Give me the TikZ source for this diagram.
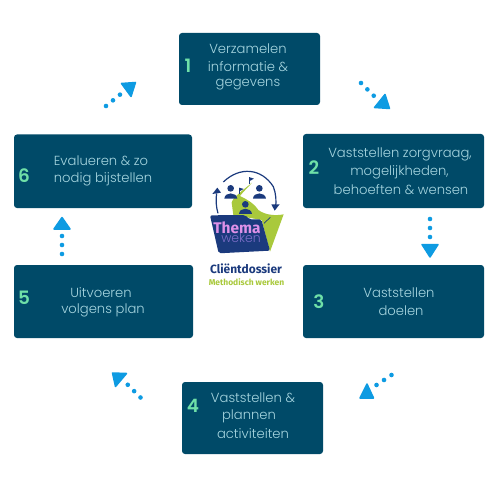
\documentclass[tikz,border=0pt]{standalone}
\usepackage{fontspec}
\setmainfont{Poppins}[UprightFont={* Light},BoldFont={* SemiBold}]
\newfontfamily\logofont{Fira Sans}
\newfontfamily\logolight{Poppins}[UprightFont={* Light}]
\usetikzlibrary{calc}
\definecolor{boxc}{HTML}{004A68}
\definecolor{txtc}{HTML}{A6D5DF}
\definecolor{numc}{HTML}{6FE0A8}
\definecolor{arrc}{HTML}{0E9BE2}
\definecolor{navy}{HTML}{1B3A7D}
\definecolor{lime}{HTML}{A9C93C}
\tikzset{
 x=1bp,y=-1bp,
 stepbox/.style={fill=boxc,rounded corners=3bp,draw=none},
 lbl/.style={text=txtc,font=\fontsize{13.2}{18}\selectfont,align=center,inner sep=0},
 num/.style={text=numc,font=\fontsize{18.5}{18}\selectfont\bfseries,inner sep=0},
 dotline/.style={draw=arrc,line width=4.6bp,line cap=round,dash pattern=on 0bp off 9bp},
 headtri/.style={fill=arrc,draw=arrc,line width=1.5bp,line join=round},
 pers/.style={fill=navy},
}
\begin{document}
\begin{tikzpicture}
\useasboundingbox (0,0) rectangle (500,500);
\fill[white] (0,0) rectangle (500,500);
% boxes
\fill[stepbox] (179,33) rectangle (320,105);
\fill[stepbox] (303,134) rectangle (484,208);
\fill[stepbox] (303,265) rectangle (484,338);
\fill[stepbox] (182,382) rectangle (323,454);
\fill[stepbox] (14,265) rectangle (193,338);
\fill[stepbox] (14,134.5) rectangle (192,208);
% texts
\node[lbl] (t1a) at (248,48.5) {Verzamelen};
\node[lbl] (t1b) at (248,66.5) {informatie \&};
\node[lbl] (t1c) at (248,84.5) {gegevens};
\node[num] (n1) at (188,66) {1};
\node[lbl] (t2a) at (400,154) {Vaststellen zorgvraag,};
\node[lbl] (t2b) at (399.5,172) {mogelijkheden,};
\node[lbl] (t2c) at (401,190) {behoeften \& wensen};
\node[num] (n2) at (314,168) {2};
\node[lbl] (t3a) at (399,292.5) {Vaststellen};
\node[lbl] (t3b) at (401,310.5) {doelen};
\node[num] (n3) at (319,302) {3};
\node[lbl] (t4a) at (253,398) {Vaststellen \&};
\node[lbl] (t4b) at (249,416) {plannen};
\node[lbl] (t4c) at (253,434) {activiteiten};
\node[num] (n4) at (193,406) {4};
\node[lbl] (t5a) at (101,292.5) {Uitvoeren};
\node[lbl] (t5b) at (103,310.5) {volgens plan};
\node[num] (n5) at (24,298) {5};
\node[lbl] (t6a) at (101,161) {Evalueren \& zo};
\node[lbl] (t6b) at (103,179) {nodig bijstellen};
\node[num] (n6) at (24,175.5) {6};
% arrows
\coordinate (a1s) at (361,83); \coordinate (a1e) at (376,98);
\draw[dotline] (a1s) -- (a1e);
\path[headtri] (374.5,107.5) -- (389.5,108.5) -- (385,94.5) -- cycle;
\coordinate (a2s) at (430,219); \coordinate (a2e) at (430,239);
\draw[dotline] (a2s) -- (a2e);
\path[headtri] (422,244.5) -- (438,244.5) -- (430,257) -- cycle;
\coordinate (a3s) at (391.5,375); \coordinate (a3e) at (375,386);
\draw[dotline] (a3s) -- (a3e);
\path[headtri] (360,398) -- (373.5,398) -- (367,384) -- cycle;
\coordinate (a4s) at (140.5,397.5); \coordinate (a4e) at (125,382);
\draw[dotline] (a4s) -- (a4e);
\path[headtri] (112.5,373) -- (126.5,373.5) -- (115.5,386.5) -- cycle;
\coordinate (a5s) at (62,254); \coordinate (a5e) at (62,234);
\draw[dotline] (a5s) -- (a5e);
\path[headtri] (54,229) -- (70,229) -- (62,217.5) -- cycle;
\coordinate (a6s) at (106,106); \coordinate (a6e) at (122,93);
\draw[dotline] (a6s) -- (a6e);
\path[headtri] (121.5,83.5) -- (135.5,82.5) -- (131,96.5) -- cycle;
% logo
\begin{scope}[shift={(190,160)},x=0.3333bp,y=-0.3333bp]
 % green back folder and road
 \fill[lime] (186,68) .. controls (175,82) and (162,92) .. (150,108) .. controls (170,118) and (190,128) .. (205,150)
   .. controls (225,165) and (255,168) .. (281,163) -- (240,275) -- (215,180) -- (130,165) -- (125,128)
   .. controls (128,112) and (160,90) .. (186,68) -- cycle;
 % folder front
 \fill[navy,rounded corners=2] (60,166) -- (165,165) -- (178,178) -- (214,178) -- (240,272) -- (86,280) -- cycle;
 \draw[navy,line width=0.7bp] (222,190) -- (241,172);
 % arcs
 \draw[navy,line width=1.2bp] (100,66) .. controls (150,18) and (215,25) .. (250,80) .. controls (258,100) and (260,125) .. (256,145);
 \draw[navy,line width=1.2bp] (84,160) .. controls (78,140) and (77,118) .. (80,100);
 \fill[navy] (67,102) -- (93,98) -- (82,83) -- cycle;
 \fill[navy] (244,133) -- (269,133) -- (254,152) -- cycle;
 % persons
 \fill[pers] (122,85) circle (10);
 \fill[pers] (103,116) .. controls (104,95) and (140,95) .. (142,116) -- cycle;
 \fill[pers] (208,85) circle (10);
 \fill[pers] (189,116) .. controls (190,95) and (226,95) .. (228,116) -- cycle;
 \fill[pers] (166,133) circle (10);
 \fill[pers] (147,162) .. controls (148,141) and (184,141) .. (186,162) -- cycle;
 % flags
 \draw[navy,line width=0.5bp] (179,52) -- (179,72);
 \fill[navy] (179,52) -- (192,56) -- (179,63) -- cycle;
 \draw[navy,line width=0.5bp] (148,83) -- (148,102);
 \fill[navy] (148,83) -- (161,87) -- (148,94) -- cycle;
\end{scope}
\node[inner sep=0,text={rgb,255:red,222;green,145;blue,232},font=\logofont\fontsize{15.5}{16}\bfseries\selectfont] (lg1) at (237,228) {Thema};
\node[inner sep=0,text={rgb,255:red,125;green,110;blue,200},font=\logolight\fontsize{12.5}{13}\selectfont] (lg2) at (241,238) {weken};
\node[inner sep=0,text=navy,font=\logofont\fontsize{12}{13}\bfseries\selectfont] (lg3) at (246,269) {Cliëntdossier};
\node[inner sep=0,text=lime,font=\logofont\fontsize{8.5}{9}\bfseries\selectfont] (lg4) at (246.5,282) {Methodisch werken};
\end{tikzpicture}
\end{document}
